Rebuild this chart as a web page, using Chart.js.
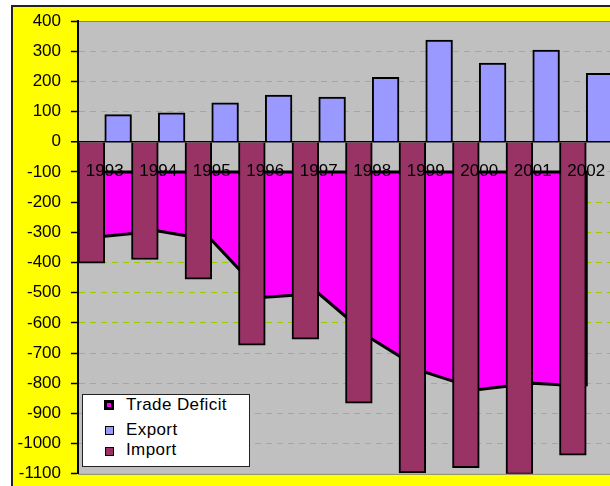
<!DOCTYPE html>
<html>
<head>
<meta charset="utf-8">
<script src="https://cdn.jsdelivr.net/npm/chart.js@4/dist/chart.umd.min.js"></script>
<style>
  html, body { margin: 0; padding: 0; background: #fff; overflow: hidden; }
  #wrap { position: relative; width: 610px; height: 486px; overflow: hidden; }
  #chart { position: absolute; left: 0; top: 0; }
  #legend {
    position: absolute; left: 82px; top: 394px; width: 166px; height: 71px;
    background: #fff; border: 1px solid #222;
    font: 17px "Liberation Sans", Arial, sans-serif; letter-spacing: 0.4px; color: #000;
  }
  .mark { position: absolute; box-sizing: border-box; }
  .txt  { position: absolute; left: 43px; height: 20px; line-height: 20px; white-space: nowrap; }
</style>
</head>
<body>
<div id="wrap">
  <canvas id="chart" width="620" height="494"></canvas>
  <div id="legend"></div>
</div>
<script>
// values
const YEARS   = ['1993', '1994', '1995', '1996', '1997', '1998', '1999', '2000', '2001', '2002'];
const EXPORT  = [90, 96, 129, 155, 148, 213, 337, 261, 304, 227];
const IMPORT  = [-402, -390, -455, -674, -654, -866, -1097, -1080, -1102, -1038];
const DEFICIT = [-313, -296, -326, -515, -503, -654, -764, -821, -800, -810];

const Y_MIN = -1100, Y_MAX = 400, Y_STEP = 100;
const AREA_BASE = -100;   // the deficit area hangs from this line

const FONT = { family: '"Liberation Sans", Arial, sans-serif', size: 17 };

// yellow frame + grey plot area
const backdrop = {
  id: 'backdrop',
  beforeDraw(chart) {
    const { ctx, chartArea: a, width, height } = chart;
    ctx.save();
    ctx.fillStyle = '#FFFF00';
    ctx.fillRect(12, 6, width, height);
    ctx.strokeStyle = '#222';
    ctx.lineWidth = 2;
    ctx.beginPath();
    ctx.moveTo(12, height); ctx.lineTo(12, 6); ctx.lineTo(width, 6);
    ctx.stroke();
    ctx.fillStyle = '#C0C0C0';
    ctx.fillRect(a.left, a.top, a.right - a.left, a.bottom - a.top);
    ctx.strokeStyle = '#808080';
    ctx.lineWidth = 1;
    ctx.strokeRect(a.left + 0.5, a.top + 0.5, a.right - a.left, a.bottom - a.top);
    ctx.restore();
  }
};

// outline of the area along its base and its right end
const areaEdges = {
  id: 'areaEdges',
  afterDatasetDraw(chart, args) {
    if (args.index !== 0) return;
    const { ctx, scales: { x, y } } = chart;
    const x0 = x.getPixelForValue(0);
    const x1 = x.getPixelForValue(YEARS.length - 1);
    const yb = y.getPixelForValue(AREA_BASE);
    const ye = y.getPixelForValue(DEFICIT[DEFICIT.length - 1]);
    ctx.save();
    ctx.strokeStyle = '#000';
    ctx.lineWidth = 3;
    ctx.beginPath();
    ctx.moveTo(x0, yb); ctx.lineTo(x1, yb); ctx.lineTo(x1, ye);
    ctx.stroke();
    ctx.restore();
  }
};

const chart = new Chart(document.getElementById('chart'), {
  type: 'bar',
  data: {
    labels: YEARS,
    datasets: [
      { type: 'line', label: 'Trade Deficit', data: DEFICIT, order: 2,
        borderColor: '#000', borderWidth: 3, backgroundColor: '#FF00FF',
        fill: { value: AREA_BASE }, pointRadius: 0, tension: 0 },
      { label: 'Import', data: IMPORT, order: 1,
        backgroundColor: '#993366', borderColor: '#000', borderWidth: 2 },
      { label: 'Export', data: EXPORT, order: 1,
        backgroundColor: '#9999FF', borderColor: '#000', borderWidth: 2 },
    ],
  },
  options: {
    responsive: false, animation: false, devicePixelRatio: 1,
    layout: { padding: { left: 0, top: 21, right: 7, bottom: 13 } },
    datasets: { bar: { barPercentage: 1, categoryPercentage: 1 } },
    plugins: { legend: { display: false }, tooltip: { enabled: false } },
    scales: {
      x: {
        position: { y: AREA_BASE },
        afterFit: s => { s.height = 0; },
        grid: { display: false, drawTicks: false },
        border: { display: false },
        ticks: { z: 1, color: '#000', font: FONT, padding: -11, maxRotation: 0, autoSkip: false },
      },
      y: {
        min: Y_MIN, max: Y_MAX,
        afterFit: s => { s.width = 78; },
        ticks: { stepSize: Y_STEP, color: '#000', font: FONT, padding: 10, callback: v => String(v) },
        grid: {
          color: c => c.tick.value === 0 ? '#000'
            : (c.tick.value === Y_MAX || c.tick.value === Y_MIN) ? 'rgba(0,0,0,0)' : '#99CC00',
          lineWidth: c => c.tick.value === 0 ? 1.5 : 1,
          tickLength: 7, tickColor: '#000', tickWidth: 1.5,
        },
        border: {
          color: '#000', width: 2,
          dash: c => (c.tick && c.tick.value !== 0) ? [6, 5] : [],
        },
      },
    },
  },
  plugins: [backdrop, areaEdges],
});

// legend: Trade Deficit, Export, Import
const legendEl = document.getElementById('legend');
const LEGEND_ROWS = [
  { ds: 0, mark: [21, 5, 10, 10, 3], textTop: -0.5 },
  { ds: 2, mark: [22, 31, 9, 9, 1], textTop: 24.5 },
  { ds: 1, mark: [22, 51.5, 9, 9, 1], textTop: 44.5 },
];
LEGEND_ROWS.forEach(r => {
  const ds = chart.data.datasets[r.ds];
  const [l, t, w, h, bw] = r.mark;
  const m = document.createElement('span');
  m.className = 'mark';
  m.style.cssText = `left:${l}px;top:${t}px;width:${w}px;height:${h}px;` +
    `background:${ds.backgroundColor};border:${bw}px solid #000;`;
  const s = document.createElement('span');
  s.className = 'txt';
  s.style.top = r.textTop + 'px';
  s.textContent = ds.label;
  legendEl.append(m, s);
});
</script>
</body>
</html>
